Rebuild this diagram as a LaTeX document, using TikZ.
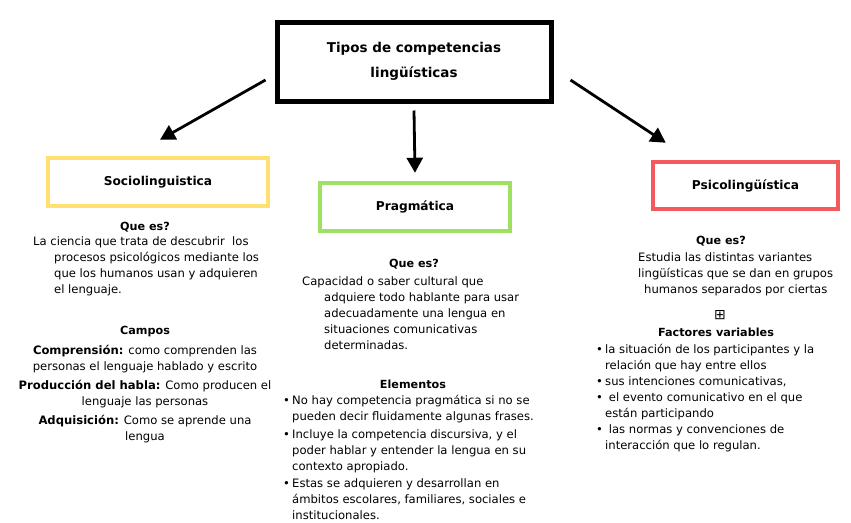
\documentclass[tikz,border=0pt]{standalone}
\usepackage{fontspec}
\setmainfont{DejaVu Sans}
\usetikzlibrary{arrows.meta}

\definecolor{amarillo}{HTML}{FFE070}
\definecolor{verde}{HTML}{9EE064}
\definecolor{rojo}{HTML}{F25A5E}

\newcommand{\bul}{\makebox[9pt][l]{•}}
\newcommand{\sang}[1]{\hspace*{#1pt}}

\begin{document}
\begin{tikzpicture}[x=1pt,y=-1pt,
  box/.style={rectangle,draw,line width=4.5pt,align=center,inner sep=0pt,font=\fontsize{12.2}{14}\selectfont\bfseries},
  arr/.style={line width=2.8pt,-{Triangle[length=15pt,width=16pt]}},
  hd/.style={font=\fontsize{11.2}{13}\selectfont\bfseries},
  txt/.style={align=left,inner sep=0pt,anchor=north west,font=\fontsize{11.6}{16}\selectfont}]
\useasboundingbox (0,0) rectangle (851,522);

\node (main) [box,line width=5pt,at={(414,61.5)},minimum width=274pt,minimum height=79pt,font=\fontsize{13.5}{25}\selectfont\bfseries] {Tipos de competencias\\ lingüísticas};

\node (socio) [box,draw=amarillo,at={(158,182)},minimum width=220pt,minimum height=48pt] {Sociolinguistica};
\node (prag) [box,draw=verde,at={(415,207)},minimum width=190pt,minimum height=48pt] {Pragmática};
\node (psico) [box,draw=rojo,at={(745.5,185.5)},minimum width=185pt,minimum height=47pt] {Psicolingüística};

\draw[arr] ([xshift=-9pt,yshift=-18.5pt]main.west) -- ([xshift=2pt,yshift=16pt]socio.north);
\draw[arr] ([yshift=-7pt]main.south) -- ([yshift=8pt]prag.north);
\draw[arr] ([xshift=17pt,yshift=-18.5pt]main.east) -- ([xshift=15pt,yshift=17pt]psico.north west);

% sociolinguistica
\node (soque) [hd] at (145,227) {Que es?};
\node (sodef) [txt] at (33,236) {La ciencia que trata de descubrir\ \ los\\
\sang{21}procesos psicológicos mediante los\\
\sang{21}que los humanos usan y adquieren\\
\sang{21}el lenguaje.};
\node (socam) [hd] at (145,332) {Campos};
\node (socamtx) [txt,align=center,anchor=north] at (145,345) {\textbf{Comprensión:} como comprenden las\\
personas el lenguaje hablado y escrito\\[3pt]
\textbf{Producción del habla:} Como producen el\\
lenguaje las personas\\[3pt]
\textbf{Adquisición:} Como se aprende una\\
lengua};

% pragmatica
\node (prque) [hd] at (414,264) {Que es?};
\node (prdef) [txt] at (302,276.5) {Capacidad o saber cultural que\\
\sang{22}adquiere todo hablante para usar\\
\sang{22}adecuadamente una lengua en\\
\sang{22}situaciones comunicativas\\
\sang{22}determinadas.};
\node (prel) [hd] at (413,384) {Elementos};
\node (prelx) [txt] at (283,395.5) {\bul No hay competencia pragmática si no se\\
\sang{9}pueden decir fluidamente algunas frases.\\[2pt]
\bul Incluye la competencia discursiva, y el\\
\sang{9}poder hablar y entender la lengua en su\\
\sang{9}contexto apropiado.\\[1pt]
\bul Estas se adquieren y desarrollan en\\
\sang{9}ámbitos escolares, familiares, sociales e\\
\sang{9}institucionales.};

% psicolinguistica
\node (psque) [hd] at (721,241) {Que es?};
\node (psdef) [txt] at (638,252.5) {Estudia las distintas variantes\\
lingüísticas que se dan en grupos\\
\sang{6}humanos separados por ciertas};
\node (psmas) [inner sep=0pt,font=\fontsize{14}{14}\selectfont] at (720,315) {⊞};
\node (psfac) [hd] at (716,332) {Factores variables};
\node (psfacx) [txt] at (596,344) {\bul la situación de los participantes y la\\
\sang{9}relación que hay entre ellos\\
\bul sus intenciones comunicativas,\\
\bul\ el evento comunicativo en el que\\
\sang{9}están participando\\
\bul\ las normas y convenciones de\\
\sang{9}interacción que lo regulan.};

\end{tikzpicture}
\end{document}
